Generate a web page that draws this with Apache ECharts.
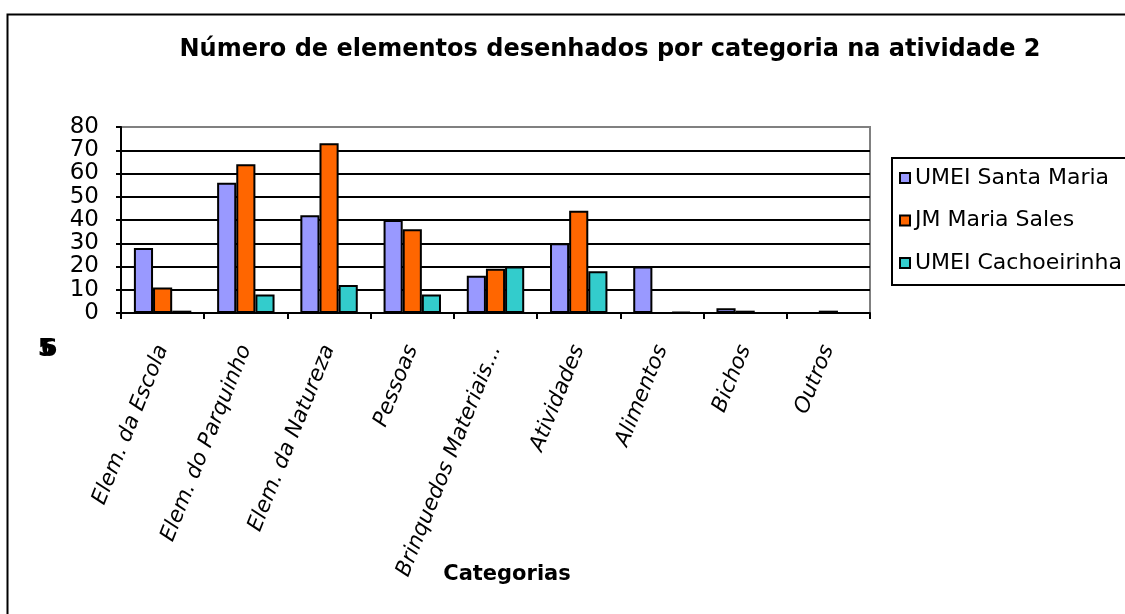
<!DOCTYPE html>
<html>
<head>
<meta charset="utf-8">
<script src="https://cdn.jsdelivr.net/npm/echarts@6/dist/echarts.min.js"></script>
<style>
  html, body { margin: 0; padding: 0; background: #fff; }
  #chart { width: 1125px; height: 614px; }
</style>
</head>
<body>
<div id="chart"></div>
<script>
const titleText = 'Número de elementos desenhados por categoria na atividade 2';
const xAxisTitle = 'Categorias';
const categories = ['Elem. da Escola', 'Elem. do Parquinho', 'Elem. da Natureza', 'Pessoas', 'Brinquedos Materiais...', 'Atividades', 'Alimentos', 'Bichos', 'Outros'];
const seriesNames = ['UMEI Santa Maria', 'JM Maria Sales', 'UMEI Cachoeirinha'];
const santaMaria = [28, 56, 42, 40, 16, 30, 20, 2, 0];
const mariaSales = [11, 64, 73, 36, 19, 44, 0, 1, 1];
const cachoeirinha = [1, 8, 12, 8, 20, 18, 0.5, 0, 0];
const yTicks = [0, 10, 20, 30, 40, 50, 60, 70, 80];

const colors = ['#9999FF', '#FF6600', '#33CCCC'];
const dataSets = [santaMaria, mariaSales, cachoeirinha];
const FONT = 'DejaVu Sans';

const chart = echarts.init(document.getElementById('chart'), null, { renderer: 'canvas' });

const splitColors = yTicks.map((v, i) => i === yTicks.length - 1 ? '#808080' : '#000000');

chart.setOption({
  animation: false,
  backgroundColor: '#ffffff',
  title: {
    text: titleText,
    left: 605,
    top: 33,
    textAlign: 'center',
    textStyle: { fontFamily: FONT, fontSize: 24, fontWeight: 'bold', color: '#000' }
  },
  legend: {
    orient: 'vertical',
    left: 892,
    top: 158,
    borderColor: '#000',
    borderWidth: 2,
    padding: [9, 120, 11, 7],
    itemGap: 20.5,
    itemWidth: 10,
    itemHeight: 10,
    icon: 'rect',
    textStyle: { fontFamily: FONT, fontSize: 22, color: '#000', lineHeight: 22 },
    data: seriesNames
  },
  grid: {
    left: 121,
    right: 255,
    top: 127,
    bottom: 301,
    show: true,
    borderColor: '#808080',
    borderWidth: 2,
    backgroundColor: '#ffffff'
  },
  xAxis: {
    type: 'category',
    data: categories,
    axisLine: { lineStyle: { color: '#000', width: 2 } },
    axisTick: { show: true, length: 6, lineStyle: { color: '#000', width: 2 } },
    axisLabel: {
      interval: 0,
      rotate: 68,
      margin: 33,
      fontFamily: FONT,
      fontSize: 21.5,
      fontStyle: 'italic',
      color: '#000'
    }
  },
  yAxis: {
    type: 'value',
    min: 0,
    max: 80,
    interval: 10,
    axisLine: { show: true, lineStyle: { color: '#000', width: 2 } },
    axisTick: { show: true, length: 5, lineStyle: { color: '#000', width: 2 } },
    axisLabel: { margin: 22, fontFamily: FONT, fontSize: 23, color: '#000' },
    splitLine: { show: true, lineStyle: { color: splitColors, width: 2 } }
  },
  series: seriesNames.map((name, i) => ({
    name: name,
    type: 'bar',
    data: dataSets[i],
    barGap: '0%',
    barCategoryGap: '31%',
    itemStyle: { color: colors[i], borderColor: '#000', borderWidth: 2 }
  })),
  graphic: [
    {
      type: 'rect',
      left: 5, top: 12,
      shape: { width: 1140, height: 620 },
      style: { fill: 'none', stroke: '#000', lineWidth: 2 },
      silent: true
    },
    {
      type: 'text',
      x: 507, y: 575,
      style: { text: xAxisTitle, fontFamily: FONT, fontSize: 21, fontWeight: 'bold', fill: '#000', align: 'center', verticalAlign: 'middle' }
    },
    {
      type: 'text',
      x: 46, y: 350,
      style: { text: '5', fontFamily: FONT, fontSize: 24, fontWeight: 'bold', fill: '#000', align: 'center', verticalAlign: 'middle' }
    },
    {
      type: 'text',
      x: 49, y: 350,
      style: { text: '6', fontFamily: FONT, fontSize: 24, fontWeight: 'bold', fill: '#000', align: 'center', verticalAlign: 'middle' }
    }
  ]
});
</script>
</body>
</html>
